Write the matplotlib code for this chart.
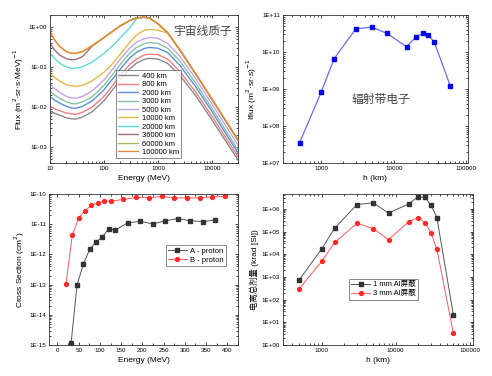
import numpy as np
import matplotlib
matplotlib.use("Agg")
import matplotlib.pyplot as plt
from matplotlib.ticker import FuncFormatter, LogLocator, MultipleLocator, NullFormatter

plt.rcParams['font.family'] = 'Liberation Sans'
plt.rcParams['axes.unicode_minus'] = False
CJK = ['Liberation Sans', 'Noto Sans CJK SC']

## panel 1: cosmic ray proton spectra at different altitudes
energy = [10, 12, 15, 20, 25, 30, 40, 60, 100, 150, 200, 300, 400, 550, 700,
          1000, 1500, 2500, 5000, 10000, 30000]
alt_labels = ['400 km', '800 km', '2000 km', '3000 km', '5000 km', '10000 km',
              '20000 km', '36000 km', '60000 km', '100000 km']
alt_colors = ['#8a8a8a', '#ee7f82', '#5c8fd8', '#86c4a4', '#c8a2ea', '#e3b844',
              '#5fd8d8', '#9e6f73', '#b9b65a', '#e58a34']
flux_400 = [0.0079, 0.0071, 0.0063, 0.0054, 0.0051, 0.0050, 0.0056, 0.0076, 0.0145, 0.029, 0.048,
            0.091, 0.126, 0.155, 0.166, 0.158, 0.123, 0.063, 0.019, 0.0047, 0.00048]
flux_800 = [0.0105, 0.0091, 0.0081, 0.0071, 0.0068, 0.0066, 0.0074, 0.010, 0.0186, 0.037, 0.062,
            0.117, 0.158, 0.20, 0.21, 0.204, 0.158, 0.079, 0.0234, 0.0058, 0.00058]
flux_2000 = [0.0182, 0.0151, 0.0126, 0.0105, 0.0095, 0.0093, 0.0105, 0.0141, 0.027, 0.054, 0.089,
             0.17, 0.234, 0.29, 0.31, 0.295, 0.23, 0.112, 0.0316, 0.0076, 0.00071]
flux_3000 = [0.025, 0.0204, 0.0166, 0.0135, 0.0123, 0.012, 0.0135, 0.018, 0.035, 0.070, 0.117,
             0.224, 0.31, 0.38, 0.41, 0.39, 0.295, 0.145, 0.039, 0.0091, 0.00085]
flux_5000 = [0.038, 0.0295, 0.0234, 0.0186, 0.017, 0.0166, 0.0186, 0.025, 0.048, 0.095, 0.158,
             0.30, 0.42, 0.51, 0.55, 0.52, 0.39, 0.19, 0.050, 0.0117, 0.00112]
flux_10000 = [0.069, 0.056, 0.045, 0.036, 0.034, 0.033, 0.035, 0.045, 0.074, 0.13, 0.21,
              0.42, 0.63, 0.83, 0.87, 0.83, 0.71, 0.275, 0.066, 0.0155, 0.0015]
flux_20000 = [0.22, 0.166, 0.126, 0.10, 0.093, 0.093, 0.102, 0.132, 0.22, 0.36, 0.54,
              0.95, 1.62, 1.76, 1.66, 1.20, 0.72, 0.275, 0.066, 0.0155, 0.0015]
flux_36000 = [0.39, 0.275, 0.20, 0.162, 0.151, 0.155, 0.182, 0.33, 0.55, 0.81, 1.07,
              1.46, 1.70, 1.76, 1.66, 1.20, 0.72, 0.275, 0.066, 0.0155, 0.0015]
flux_60000 = [0.76, 0.49, 0.33, 0.245, 0.22, 0.22, 0.245, 0.34, 0.55, 0.81, 1.07,
              1.46, 1.70, 1.76, 1.66, 1.20, 0.72, 0.275, 0.066, 0.0155, 0.0015]
flux_100000 = [0.76, 0.49, 0.33, 0.245, 0.22, 0.22, 0.245, 0.34, 0.55, 0.81, 1.07,
               1.46, 1.70, 1.76, 1.66, 1.20, 0.72, 0.275, 0.066, 0.0155, 0.0015]
flux_all = [flux_400, flux_800, flux_2000, flux_3000, flux_5000, flux_10000,
            flux_20000, flux_36000, flux_60000, flux_100000]

## panel 2: radiation belt electrons
h_km = [500, 1000, 1500, 3000, 5000, 8000, 15000, 20000, 25000, 30000, 36000, 60000]
e_flux = [3.5e7, 8.4e8, 6.6e9, 4.25e10, 4.7e10, 3.2e10, 1.38e10, 2.5e10, 3.24e10, 2.8e10, 1.87e10, 1.22e9]

## panel 3: cross sections
energy_a = [32, 46, 61, 76, 91, 106, 121, 136, 165, 195, 225, 254, 283, 313, 342, 371]
sigma_a = [1.15e-15, 9.7e-14, 4.8e-13, 1.5e-12, 2.6e-12, 3.8e-12, 7.2e-12, 6.4e-12,
           1.1e-11, 1.25e-11, 1.02e-11, 1.3e-11, 1.53e-11, 1.3e-11, 1.22e-11, 1.38e-11]
energy_b = [20, 35, 50, 65, 80, 95, 110, 125, 155, 185, 215, 245, 275, 305, 335, 365, 395]
sigma_b = [1.07e-13, 4.3e-12, 1.65e-11, 2.8e-11, 4.2e-11, 5.1e-11, 5.8e-11, 5.8e-11, 6.6e-11,
           7.7e-11, 7.5e-11, 8.3e-11, 7.5e-11, 7.35e-11, 7.5e-11, 8.1e-11, 8.3e-11]

## panel 4: total ionizing dose
dose_1mm = [760, 1.7e4, 1.4e5, 1.55e6, 1.84e6, 6.5e5, 1.66e6, 3.4e6, 3.2e6, 1.45e6, 4.1e5, 22]
dose_3mm = [305, 4.8e3, 3.3e4, 2.3e5, 1.35e5, 4.4e4, 2.7e5, 4.1e5, 2.5e5, 8.7e4, 1.66e4, 3.4]


def exp_fmt(v, pos):
    e = int(round(np.log10(v)))
    return "1E%+03d" % e


def style(ax, logx=True):
    ax.tick_params(which='both', direction='in', top=True, right=True, labelsize=4.5,
                   width=0.5, pad=2)
    ax.tick_params(which='major', length=2.5)
    ax.tick_params(which='minor', length=1.3)
    for s in ax.spines.values():
        s.set_linewidth(0.6)
        s.set_color('#333333')
    ax.yaxis.set_major_formatter(FuncFormatter(exp_fmt))
    ax.yaxis.set_minor_formatter(NullFormatter())
    if logx:
        ax.xaxis.set_major_formatter(FuncFormatter(lambda v, p: "%d" % v))
        ax.xaxis.set_minor_formatter(NullFormatter())


fig = plt.figure(figsize=(4.92, 3.76), dpi=100)
ax1 = fig.add_axes([0.1016, 0.5665, 0.382, 0.3936])
ax2 = fig.add_axes([0.575, 0.5665, 0.376, 0.3936])
ax3 = fig.add_axes([0.0996, 0.0824, 0.384, 0.4016])
ax4 = fig.add_axes([0.575, 0.0824, 0.386, 0.4016])

# panel 1
for lab, col, fl in zip(alt_labels, alt_colors, flux_all):
    ax1.plot(energy, fl, color=col, lw=1.0, label=lab)
ax1.set_xscale('log')
ax1.set_yscale('log')
ax1.set_xlim(10, 30000)
ax1.set_ylim(4e-4, 2.0)
ax1.set_yticks([1e-3, 1e-2, 1e-1, 1])
style(ax1)
ax1.set_xlabel("Energy (MeV)", fontsize=6, labelpad=3)
ax1.set_ylabel("Flux (m$^2$·sr·s·MeV)$^{-1}$", fontsize=6, labelpad=2)
ax1.text(0.81, 0.885, "宇宙线质子", transform=ax1.transAxes, ha='center', va='center',
         fontsize=8.5, color='#444444', family=CJK)
leg = ax1.legend(loc='lower center', bbox_to_anchor=(0.524, 0.005), fontsize=5.5,
                 labelspacing=0.15, handlelength=2.6, borderpad=0.3, handletextpad=0.5,
                 frameon=True, fancybox=False, edgecolor='#333333')
leg.get_frame().set_linewidth(0.5)

# panel 2
ax2.plot(h_km, e_flux, color='#6b6bf0', lw=0.9, marker='s', ms=3,
         mfc='#0000ee', mec='#0000ee')
ax2.set_xscale('log')
ax2.set_yscale('log')
ax2.set_xlim(295, 105000)
ax2.set_ylim(1e7, 1e11)
style(ax2)
ax2.set_xlabel("h (km)", fontsize=6, labelpad=3)
ax2.set_ylabel("Iflux (m$^2$·sr·s)$^{-1}$", fontsize=6, labelpad=2)
ax2.text(0.53, 0.426, "辐射带电子", transform=ax2.transAxes, ha='center', va='center',
         fontsize=8.5, color='#444444', family=CJK)

# panel 3
ax3.plot(energy_a, sigma_a, color='#555555', lw=0.7, marker='s', ms=2.6,
         mfc='#333333', mec='#333333', label='A - proton')
ax3.plot(energy_b, sigma_b, color='#ff5a5a', lw=0.7, marker='o', ms=2.8,
         mfc='#ff2a2a', mec='#ff2a2a', label='B - proton')
ax3.set_yscale('log')
ax3.set_xlim(-20, 425)
ax3.set_ylim(1e-15, 1e-10)
ax3.xaxis.set_major_locator(MultipleLocator(50))
ax3.xaxis.set_minor_locator(MultipleLocator(25))
style(ax3, logx=False)
ax3.set_xlabel("Energy (MeV)", fontsize=6, labelpad=3)
ax3.set_ylabel("Cross Section (cm$^2$)", fontsize=6, labelpad=2)
leg3 = ax3.legend(loc='upper right', bbox_to_anchor=(0.955, 0.685), fontsize=5.5,
                  labelspacing=0.2, handlelength=2.4, borderpad=0.3, handletextpad=0.4,
                  fancybox=False, edgecolor='#333333')
leg3.get_frame().set_linewidth(0.5)

# panel 4
ax4.plot(h_km, dose_1mm, color='#555555', lw=0.7, marker='s', ms=2.6,
         mfc='#333333', mec='#333333', label='1 mm Al屏蔽')
ax4.plot(h_km, dose_3mm, color='#ff5a5a', lw=0.7, marker='o', ms=2.8,
         mfc='#ff2a2a', mec='#ff2a2a', label='3 mm Al屏蔽')
ax4.set_xscale('log')
ax4.set_yscale('log')
ax4.set_xlim(300, 110000)
ax4.set_ylim(1, 4.5e6)
ax4.yaxis.set_major_locator(LogLocator(base=10, numticks=10))
style(ax4)
ax4.set_xlabel("h (km)", fontsize=6, labelpad=3)
ax4.set_ylabel("电离总剂量 (krad [Si])", fontsize=6, labelpad=2, family=CJK)
leg4 = ax4.legend(loc='center', bbox_to_anchor=(0.53, 0.37), fontsize=5.5,
                  labelspacing=0.2, handlelength=2.4, borderpad=0.3, handletextpad=0.4,
                  fancybox=False, edgecolor='#333333', prop={'family': CJK, 'size': 5.5})
leg4.get_frame().set_linewidth(0.5)

fig.savefig("out.png", dpi=100)
